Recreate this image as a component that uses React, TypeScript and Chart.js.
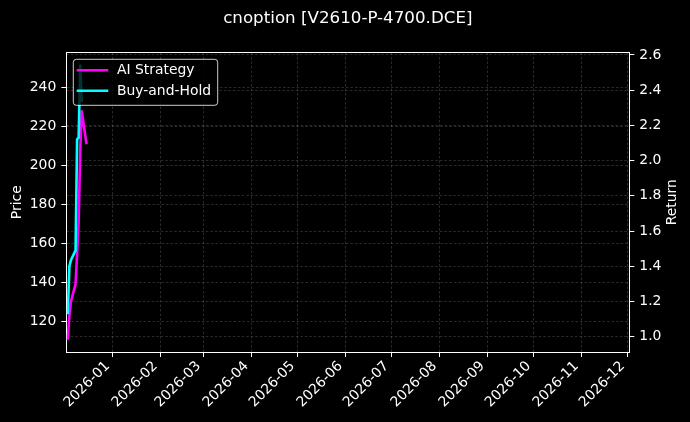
import { useEffect, useRef } from 'react';
import { Chart, registerables } from 'chart.js';

Chart.register(...registerables);

// trading days shown on the chart
const dates = ['2025-12-03', '2025-12-04', '2025-12-05', '2025-12-08', '2025-12-09', '2025-12-10', '2025-12-11', '2025-12-12', '2025-12-15'];
// cumulative return of the strategy
const aiStrategy = [0.99, 1.12, 1.2, 1.3, 1.47, 1.65, 2.05, 2.28, 2.1];
// buy-and-hold return (no value on the last day)
const buyAndHold = [1.135, 1.4, 1.435, 1.49, 2.12, 2.13, 2.54, 2.34, null];

const monthTicks = ['2026-01', '2026-02', '2026-03', '2026-04', '2026-05', '2026-06', '2026-07', '2026-08', '2026-09', '2026-10', '2026-11', '2026-12'];
const priceTicks = [120, 140, 160, 180, 200, 220, 240];
const returnTicks = [1.0, 1.2, 1.4, 1.6, 1.8, 2.0, 2.2, 2.4, 2.6];

const xStart = '2025-12-02';
const xEnd = '2026-12-02';

const FONT = '"DejaVu Sans", sans-serif';
const MAGENTA = '#ff00ff';
const CYAN = '#00ffff';
const GRID = 'rgba(150,150,150,0.4)';

const toDay = (s: string) => {
  const [y, m, d] = s.split('-').map(Number);
  return Date.UTC(y, m - 1, d) / 86400000;
};

const dayLabel = (v: number) => {
  const dt = new Date(v * 86400000);
  return `${dt.getUTCFullYear()}-${String(dt.getUTCMonth() + 1).padStart(2, '0')}`;
};

const toPoints = (vals: (number | null)[]) =>
  dates
    .map((d, i) => ({ x: toDay(d), y: vals[i] }))
    .filter((p) => p.y !== null);

// title, axis titles, top spine and the boxed legend
const decorations = {
  id: 'decorations',
  afterDraw(chart: any) {
    const { ctx, chartArea } = chart;
    const midX = (chartArea.left + chartArea.right) / 2;
    const midY = (chartArea.top + chartArea.bottom) / 2;
    ctx.save();

    ctx.strokeStyle = '#ffffff';
    ctx.lineWidth = 1;
    ctx.beginPath();
    ctx.moveTo(chartArea.left, chartArea.top);
    ctx.lineTo(chartArea.right, chartArea.top);
    ctx.stroke();

    ctx.fillStyle = '#ffffff';
    ctx.textAlign = 'center';
    ctx.textBaseline = 'middle';
    ctx.font = `16.7px ${FONT}`;
    ctx.fillText('cnoption [V2610-P-4700.DCE]', midX, 18.5);

    ctx.font = `13.9px ${FONT}`;
    ctx.save();
    ctx.translate(17, midY);
    ctx.rotate(-Math.PI / 2);
    ctx.fillText('Price', 0, 0);
    ctx.restore();
    ctx.save();
    ctx.translate(672.5, midY);
    ctx.rotate(-Math.PI / 2);
    ctx.fillText('Return', 0, 0);
    ctx.restore();

    // legend
    const bx = 73.3, by = 59.3, bw = 144.4, bh = 46;
    ctx.beginPath();
    ctx.roundRect(bx, by, bw, bh, 3);
    ctx.fillStyle = 'rgba(0,0,0,0.8)';
    ctx.fill();
    ctx.strokeStyle = 'rgba(255,255,255,0.8)';
    ctx.lineWidth = 1;
    ctx.stroke();

    const items = [
      { label: 'AI Strategy', color: MAGENTA, y: 70.3 },
      { label: 'Buy-and-Hold', color: CYAN, y: 90.7 },
    ];
    ctx.textAlign = 'left';
    for (const it of items) {
      ctx.strokeStyle = it.color;
      ctx.lineWidth = 2.6;
      ctx.lineCap = 'square';
      ctx.beginPath();
      ctx.moveTo(78, it.y);
      ctx.lineTo(107, it.y);
      ctx.stroke();
      ctx.fillStyle = '#ffffff';
      ctx.fillText(it.label, 117, it.y + 0.5);
    }
    ctx.restore();
  },
};

export default function App() {
  const canvasRef = useRef<HTMLCanvasElement>(null);
  const chartRef = useRef<Chart | null>(null);

  useEffect(() => {
    if (!canvasRef.current) return;
    document.body.style.margin = '0';
    document.body.style.background = '#000';

    if (chartRef.current) {
      chartRef.current.destroy();
    }

    const tickFont = { family: FONT, size: 13.9 };
    const gridOpts = {
      color: GRID,
      lineWidth: 0.7,
      tickLength: 5,
      tickColor: '#ffffff',
      tickWidth: 1,
      tickBorderDash: [],
    };
    const borderOpts = { color: '#ffffff', width: 1, dash: [2.5, 2] };

    chartRef.current = new Chart(canvasRef.current, {
      type: 'line',
      data: {
        datasets: [
          {
            label: 'AI Strategy',
            data: toPoints(aiStrategy),
            borderColor: MAGENTA,
            backgroundColor: MAGENTA,
            borderWidth: 2.6,
            borderCapStyle: 'square',
            borderJoinStyle: 'round',
            pointRadius: 0,
            tension: 0,
            yAxisID: 'y2',
            order: 1,
          },
          {
            label: 'Buy-and-Hold',
            data: toPoints(buyAndHold),
            borderColor: CYAN,
            backgroundColor: CYAN,
            borderWidth: 2.6,
            borderCapStyle: 'square',
            borderJoinStyle: 'round',
            pointRadius: 0,
            tension: 0,
            yAxisID: 'y2',
            order: 0,
          },
        ],
      },
      options: {
        responsive: false,
        maintainAspectRatio: false,
        animation: false,
        layout: { padding: { top: 52.5, left: 0, right: 0, bottom: 0 } },
        plugins: {
          legend: { display: false },
          tooltip: { enabled: false },
          title: { display: false },
        },
        scales: {
          x: {
            type: 'linear',
            min: toDay(xStart),
            max: toDay(xEnd),
            afterBuildTicks: (scale: any) => {
              scale.ticks = monthTicks.map((m) => ({ value: toDay(m + '-01') }));
            },
            afterFit: (scale: any) => {
              scale.height = 70;
            },
            ticks: {
              color: '#ffffff',
              font: tickFont,
              autoSkip: false,
              minRotation: 45,
              maxRotation: 45,
              padding: 1,
              labelOffset: -5,
              callback: (v: any) => dayLabel(Number(v)),
            },
            grid: gridOpts,
            border: borderOpts,
          },
          y: {
            type: 'linear',
            position: 'left',
            min: 104.1,
            max: 257.9,
            afterBuildTicks: (scale: any) => {
              scale.ticks = priceTicks.map((v) => ({ value: v }));
            },
            afterFit: (scale: any) => {
              scale.width = 66.3;
            },
            ticks: {
              color: '#ffffff',
              font: tickFont,
              padding: 5,
              callback: (v: any) => String(v),
            },
            grid: gridOpts,
            border: borderOpts,
          },
          y2: {
            type: 'linear',
            position: 'right',
            min: 0.913,
            max: 2.614,
            afterBuildTicks: (scale: any) => {
              scale.ticks = returnTicks.map((v) => ({ value: v }));
            },
            afterFit: (scale: any) => {
              scale.width = 60.7;
            },
            ticks: {
              color: '#ffffff',
              font: tickFont,
              padding: 5,
              callback: (v: any) => Number(v).toFixed(1),
            },
            grid: gridOpts,
            border: borderOpts,
          },
        },
      },
      plugins: [decorations],
    });

    return () => {
      if (chartRef.current) {
        chartRef.current.destroy();
        chartRef.current = null;
      }
    };
  }, []);

  return (
    <div style={{ position: 'fixed', left: 0, top: 0, width: '690px', height: '422px', background: '#000' }}>
      <canvas ref={canvasRef} width={690} height={422} style={{ width: '690px', height: '422px' }} />
    </div>
  );
}
